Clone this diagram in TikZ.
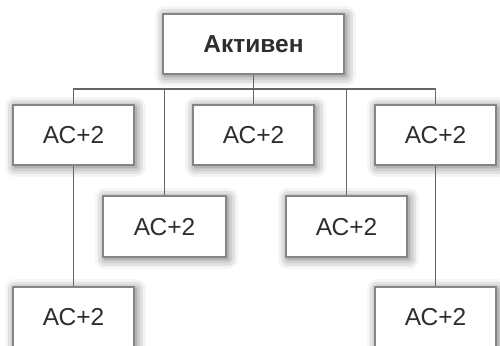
\documentclass[tikz,border=0pt]{standalone}
\usepackage{fontspec}
\setmainfont{Liberation Sans}
\usetikzlibrary{shadows.blur}
\definecolor{boxline}{HTML}{858585}
\definecolor{linkline}{HTML}{666666}
\definecolor{boxtext}{HTML}{2E2E2E}
\tikzset{
  box/.style  = {draw=boxline, line width=1.2pt, fill=white, text=boxtext,
                 minimum width=121pt, minimum height=60pt, inner sep=0pt,
                 font=\fontsize{24.5}{28}\selectfont, text depth=-3pt,
                 blur shadow={shadow xshift=2pt, shadow yshift=-2pt,
                              shadow blur radius=10pt, shadow opacity=60}},
  link/.style = {draw=linkline, line width=1.5pt}
}
\begin{document}
\begin{tikzpicture}[x = 1pt, y = -1pt]
        \useasboundingbox (0,0) rectangle (500,345);
        \coordinate (bus) at (253.5, 89);
        \node[box, minimum width=181pt, font=\fontsize{24.5}{28}\selectfont\bfseries]
                             (active) at (253.5,  44) {Активен};
        \node[box]           (left1)  at ( 73.5, 135) {АС+2};
        \node[box]           (mid1)   at (253.5, 135) {АС+2};
        \node[box]           (right1) at (435.5, 135) {АС+2};
        \node[box, minimum width=123pt, minimum height=61pt]
                             (left2)  at (164.5, 226.5) {АС+2};
        \node[box, minimum height=61pt]
                             (right2) at (346.5, 226.5) {АС+2};
        \node[box]           (left3)  at ( 73.5, 317) {АС+2};
        \node[box]           (right3) at (435.5, 317) {АС+2};
        \draw[link] (active.south) -- (mid1.north);
        \draw[link] (left1.north) |- (bus) -| (right1.north);
        \draw[link] (left2.north) |- (bus) -| (right2.north);
        \draw[link] (left1.south) -- (left3.north);
        \draw[link] (right1.south) -- (right3.north);
\end{tikzpicture}
\end{document}
